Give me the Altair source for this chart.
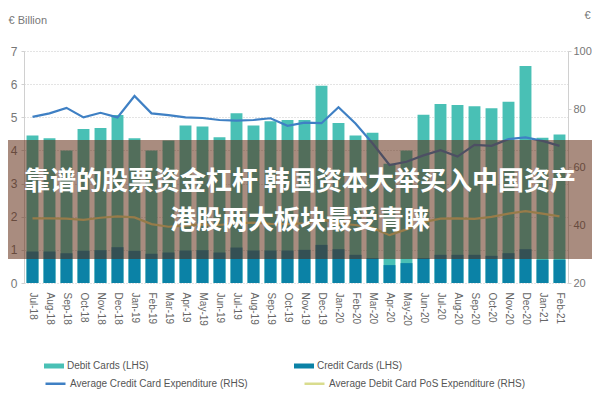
import altair as alt
import pandas as pd

months = ["Jul-18", "Aug-18", "Sep-18", "Oct-18", "Nov-18", "Dec-18",
          "Jan-19", "Feb-19", "Mar-19", "Apr-19", "May-19", "Jun-19",
          "Jul-19", "Aug-19", "Sep-19", "Oct-19", "Nov-19", "Dec-19",
          "Jan-20", "Feb-20", "Mar-20", "Apr-20", "May-20", "Jun-20",
          "Jul-20", "Aug-20", "Sep-20", "Oct-20", "Nov-20", "Dec-20",
          "Jan-21", "Feb-21"]

debit_cards = [4.45, 4.37, 4.00, 4.65, 4.68, 5.07, 4.37, 4.00, 4.30, 4.75, 4.72, 4.40,
               5.12, 4.75, 4.88, 4.92, 4.92, 5.95, 4.83, 4.45, 4.53, 3.60, 4.00, 5.08,
               5.40, 5.37, 5.33, 5.27, 5.47, 6.55, 4.38, 4.48]

credit_cards = [0.95, 0.95, 0.90, 0.97, 0.99, 1.08, 0.97, 0.88, 0.92, 0.98, 0.99, 0.92,
                1.07, 0.98, 0.98, 0.98, 1.00, 1.15, 1.02, 0.85, 0.75, 0.54, 0.60, 0.75,
                0.85, 0.85, 0.85, 0.82, 0.90, 1.02, 0.70, 0.70]

avg_credit_exp = [77.3, 78.5, 80.4, 77.1, 78.7, 77.1, 84.5, 78.5, 77.9, 77.1, 76.9, 76.2,
                  76.0, 76.2, 76.8, 74.2, 75.3, 75.1, 80.6, 75.0, 68.2, 60.7, 61.8, 64.0,
                  65.8, 63.6, 67.6, 67.3, 69.6, 70.2, 69.0, 67.3]

avg_debit_pos = [42.3, 42.3, 42.2, 41.8, 42.5, 43.0, 42.6, 40.3, 39.4, 39.8, 40.2, 40.0,
                 40.6, 40.8, 40.4, 40.3, 40.6, 42.0, 40.5, 40.0, 39.0, 36.5, 38.5, 41.0,
                 42.2, 42.3, 42.1, 42.8, 43.9, 44.8, 43.9, 43.0]

bar_series = ["Debit Cards (LHS)", "Credit Cards (LHS)"]
line_series = ["Average Credit Card Expenditure (RHS)", "Average Debit Card PoS Expenditure (RHS)"]
left_ticks = [0, 1, 2, 3, 4, 5, 6, 7]
right_ticks = [20, 40, 60, 80, 100]
banner_lines = ["靠谱的股票资金杠杆 韩国资本大举买入中国资产", "港股两大板块最受青睐"]

df = pd.DataFrame({
    "month": months,
    bar_series[0]: debit_cards,
    bar_series[1]: credit_cards,
    line_series[0]: avg_credit_exp,
    line_series[1]: avg_debit_pos,
})

FONT = "Liberation Sans"

x_enc = alt.X(
    "month:N", sort=months, title=None,
    scale=alt.Scale(paddingInner=0.3, paddingOuter=0.15),
    axis=alt.Axis(labelAngle=90, labelFontSize=10, labelColor="#666", labelPadding=9,
                  ticks=False, domain=False, labelFont=FONT),
)

bars = alt.Chart(df).transform_fold(bar_series, as_=["series", "value"]).transform_calculate(
    order="datum.series == 'Debit Cards (LHS)' ? 0 : 1"
).mark_bar().encode(
    x=x_enc,
    y=alt.Y("value:Q", stack=None, title="€ Billion",
            scale=alt.Scale(domain=[0, 7], nice=False),
            axis=alt.Axis(orient="left", values=left_ticks, grid=True, gridDash=[1, 2],
                          gridColor="#c8c8c8", domainColor="#d0d0d0", tickColor="#d0d0d0",
                          tickSize=3, labelFontSize=12, labelColor="#777", labelPadding=4,
                          labelFont=FONT,
                          titleAngle=0, titleX=-16, titleY=-31, titleAlign="left",
                          titleBaseline="middle", titleFontSize=11, titleFontWeight="normal",
                          titleColor="#777", titleFont=FONT)),
    fill=alt.Fill("series:N", scale=alt.Scale(domain=bar_series, range=["#49c0b5", "#0b82a6"]),
                  legend=alt.Legend(title=None, orient="none", legendX=20, legendY=305,
                                    direction="horizontal", columns=2, columnPadding=145,
                                    symbolType="M-1,-0.25L1,-0.25L1,0.25L-1,0.25Z",
                                    symbolSize=400, symbolStrokeWidth=0, labelFontSize=10,
                                    labelColor="#555", labelLimit=300, labelOffset=3,
                                    labelFont=FONT)),
    order=alt.Order("order:Q"),
)

lines = alt.Chart(df).transform_fold(line_series, as_=["series", "value"]).mark_line(
    strokeWidth=2.2
).encode(
    x=x_enc,
    y=alt.Y("value:Q", title="€",
            scale=alt.Scale(domain=[20, 100], nice=False),
            axis=alt.Axis(orient="right", values=right_ticks, grid=False,
                          domainColor="#d0d0d0", tickColor="#d0d0d0", tickSize=3,
                          labelFontSize=11, labelColor="#777", labelPadding=2, labelFont=FONT,
                          titleAngle=0, titleX=22, titleY=-36, titleAlign="right",
                          titleBaseline="middle", titleFontSize=11, titleFontWeight="normal",
                          titleColor="#777", titleFont=FONT)),
    stroke=alt.Stroke("series:N", scale=alt.Scale(domain=line_series, range=["#3f80c4", "#d9dc8e"]),
                      legend=alt.Legend(title=None, orient="none", legendX=20, legendY=321,
                                        direction="horizontal", columns=2, columnPadding=51,
                                        symbolType="stroke", symbolSize=400,
                                        symbolStrokeWidth=2.5, labelFontSize=10,
                                        labelColor="#555", labelLimit=300, labelOffset=3,
                                        labelFont=FONT)),
    detail="series:N",
)

one = pd.DataFrame({"t": [0]})
banner = alt.Chart(one).mark_rect(color="#5a230a", opacity=0.52).encode(
    x=alt.value(-24), x2=alt.value(576), y=alt.value(89), y2=alt.value(208)
)
text1 = alt.Chart(pd.DataFrame({"t": [banner_lines[0]]})).mark_text(
    font="Noto Sans CJK SC", fontWeight="bold", fontSize=26, color="white",
    align="center", baseline="middle"
).encode(text="t:N", x=alt.value(276), y=alt.value(131))
text2 = alt.Chart(pd.DataFrame({"t": [banner_lines[1]]})).mark_text(
    font="Noto Sans CJK SC", fontWeight="bold", fontSize=26, color="white",
    align="center", baseline="middle"
).encode(text="t:N", x=alt.value(276), y=alt.value(170))

chart = alt.layer(bars, lines, banner, text1, text2).resolve_scale(
    y="independent", fill="independent", stroke="independent"
).properties(
    width=544, height=232,
    autosize=alt.AutoSizeParams(type="none"),
    padding={"left": 16, "top": 43, "right": 24, "bottom": 109},
    background="white",
).configure_view(stroke=None)

chart.save("out.html", embed_options={"renderer": "svg", "actions": False})
